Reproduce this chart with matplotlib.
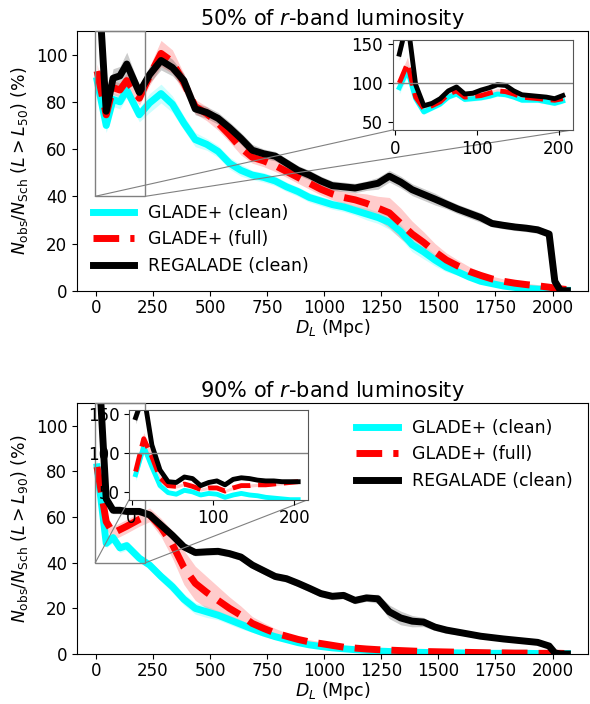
import matplotlib
matplotlib.use("Agg")
from matplotlib import pyplot as plt
import numpy as np

# distance grid (Mpc) of the main panels
dist = [5, 45, 75, 105, 135, 190, 235, 285, 335, 385, 435, 485, 535, 585, 635,
        685, 735, 785, 835, 885, 935, 985, 1035, 1085, 1135, 1185, 1235, 1285,
        1335, 1385, 1435, 1485, 1535, 1585, 1635, 1685, 1735, 1785, 1835, 1885,
        1935, 1985, 2010, 2035, 2065]
# distance grid (Mpc) of the zoomed insets
dist_zoom = [5, 15, 25, 35, 45, 55, 65, 75, 85, 95, 105, 115, 125, 135, 145,
             155, 165, 175, 185, 195, 205]

labels = ["GLADE+ (clean)", "GLADE+ (full)", "REGALADE (clean)"]

# ---- 50% of r-band luminosity ----
l50_glade_clean = [89, 70, 81, 80, 85, 74.5, 79.5, 83.5, 79, 71, 64, 62, 59, 54,
                   51, 49, 48, 46.5, 44, 42, 39.5, 38, 36.5, 35.5, 34, 32.5, 31,
                   29, 25, 19.5, 16.5, 13, 10, 8, 5.8, 4, 3, 2, 1.4, 1, 0.7, 0.5,
                   0.4, 0.3, 0.2]
l50_glade_clean_err = [3, 3, 3, 3, 3, 3, 4, 4, 3.5, 3, 3, 2.5, 2.5, 2.5, 2.5,
                       2, 2, 2, 2, 2, 2, 2, 2, 2, 2, 2.5, 2.5, 3, 3, 3, 3, 2.5,
                       2, 1.5, 1.2, 1, 0.8, 0.6, 0.5, 0.4, 0.3, 0.3, 0.2, 0.2,
                       0.2]
l50_glade_full = [93, 74.5, 86, 85, 89, 81.5, 91, 100.5, 97, 88, 78, 75, 71, 66,
                  60.5, 56.5, 55, 53, 50.5, 48, 45.5, 43, 41, 39.5, 38.5, 37,
                  35, 33, 28.5, 24, 20.5, 16.5, 13, 10.5, 8.2, 6.5, 5, 4, 3.2,
                  2.6, 2.1, 1.5, 1.1, 0.8, 0.5]
l50_glade_full_err = [3, 3, 3, 3, 3, 3, 4, 5.5, 5, 4, 3, 3, 3, 3, 3, 2.5, 2.5,
                      2.5, 2.5, 2.5, 2.5, 2.5, 2.5, 2.5, 3, 4, 5, 6.5, 6.5, 5.5,
                      4.5, 3.5, 3, 2.5, 2, 1.5, 1.2, 1, 0.8, 0.6, 0.5, 0.4, 0.3,
                      0.3, 0.2]
l50_regalade = [140, 76, 90, 91, 96, 84, 91.5, 97.5, 94.5, 89, 77, 75.5, 73, 69,
                64.5, 59.5, 58, 57, 54, 51, 49, 46.5, 44.5, 44, 43.5, 44.5,
                45.5, 48.5, 46, 42.8, 40.8, 38.8, 36.7, 34.6, 32.8, 31, 28.5,
                27.7, 27, 26.5, 25.8, 24, 4, 0, 0]
l50_regalade_err = [6, 4, 4, 4, 5, 3, 3.5, 4, 3.5, 3, 2.5, 2.5, 2.5, 2.5, 2.5,
                    2.5, 2, 2, 2, 2, 2, 2, 2, 2, 2, 2, 2.5, 2.5, 2.5, 2.5, 2.5,
                    2.5, 2, 2, 2, 2, 1.5, 1.5, 1.5, 1.5, 1.5, 1.5, 0.5, 0, 0]

l50_zoom_glade_clean = [94, 116, 80, 63, 68, 73, 82, 86, 79, 80, 81, 83, 86, 85,
                        82, 78, 78, 78, 76, 74, 77]
l50_zoom_glade_full = [100, 125, 82, 67, 71, 76, 86, 90, 82, 83, 84, 87, 90, 89,
                       86, 82, 81, 80, 79, 78, 80]
l50_zoom_regalade = [137, 180, 98, 71, 74, 80, 90, 95, 86, 87, 91, 94, 98, 97,
                     90, 85, 84, 83, 82, 80, 84]
l50_zoom_err = [8, 8, 5, 3, 3, 3, 3, 3, 3, 3, 3, 3, 3, 3, 3, 3, 3, 3, 3, 3, 3]

# ---- 90% of r-band luminosity ----
l90_glade_clean = [82, 48.5, 51, 46.5, 47.5, 42, 39, 34, 29.5, 24, 20, 18.5, 17,
                   15, 13, 11, 9.2, 7.6, 6.3, 5, 4, 3.3, 2.7, 2.3, 1.9, 1.6,
                   1.3, 1.1, 0.9, 0.8, 0.7, 0.6, 0.5, 0.5, 0.4, 0.4, 0.3, 0.3,
                   0.3, 0.3, 0.2, 0.2, 0.2, 0.2, 0.2]
l90_glade_clean_err = [3, 2, 2, 2, 2, 1.5, 1.5, 2, 2.5, 2.5, 2.5, 2.5, 2, 2, 2,
                       1.5, 1.5, 1.2, 1, 0.8, 0.6, 0.5, 0.4, 0.3, 0.3, 0.2,
                       0.2, 0.2, 0.2, 0.1, 0.1, 0.1, 0.1, 0.1, 0.1, 0.1, 0.1,
                       0.1, 0.1, 0.1, 0.1, 0.1, 0.1, 0.1, 0.1]
l90_glade_full = [82, 58, 53, 54.5, 56, 59, 61, 55.5, 48, 38, 31, 27, 23.5, 20,
                  17, 13.4, 11.2, 9.2, 7.8, 6.4, 5.3, 4.6, 3.8, 3, 2.6, 2.2,
                  1.9, 1.7, 1.5, 1.3, 1.1, 1, 0.9, 0.8, 0.7, 0.6, 0.5, 0.5, 0.4,
                  0.4, 0.3, 0.3, 0.3, 0.3, 0.2]
l90_glade_full_err = [3, 3, 3, 3, 3, 3, 3, 4, 6, 7.5, 7.5, 7, 6, 5, 4, 3, 2.5,
                      2, 1.5, 1.2, 1, 0.8, 0.7, 0.6, 0.5, 0.4, 0.3, 0.3, 0.3,
                      0.2, 0.2, 0.2, 0.2, 0.2, 0.1, 0.1, 0.1, 0.1, 0.1, 0.1,
                      0.1, 0.1, 0.1, 0.1, 0.1]
l90_regalade = [140, 68, 63, 63, 62.5, 62.5, 61, 56.5, 52, 47, 44.5, 44.8, 45,
                44, 42.5, 39, 36.5, 34, 33, 31, 28.8, 26.5, 25.3, 25.7, 23.5,
                24.6, 24.2, 18.5, 15.8, 14.4, 14, 11.8, 10.5, 9.6, 8.7, 7.8,
                7.2, 6.6, 6.1, 5.6, 5.1, 3.5, 0.5, 0, 0]
l90_regalade_err = [5, 2, 1.5, 1.5, 1.5, 1.5, 1.5, 1.5, 1.5, 1.5, 1.5, 1.5, 1.5,
                    1.5, 1.5, 1.5, 1.5, 1.5, 1.5, 1.5, 1.5, 1.5, 1.5, 1.5, 1.5,
                    1.5, 2, 3, 3, 2.5, 2, 1.5, 1.5, 1.2, 1, 1, 1, 1, 1, 1, 1,
                    1, 0.3, 0, 0]

l90_zoom_glade_clean = [72, 108, 82, 58, 49, 47, 52, 50, 46, 48, 47, 43, 46, 48,
                        46, 45, 43, 42, 41, 40, 40]
l90_zoom_glade_full = [76, 118, 95, 68, 58, 57, 60, 57, 53, 55, 55, 51, 55, 58,
                       58, 59, 59, 60, 61, 62, 63]
l90_zoom_regalade = [145, 175, 110, 78, 63, 62, 69, 67, 58, 62, 64, 59, 66, 68,
                     67, 65, 64, 64, 63, 63, 63]
l90_zoom_err = [8, 8, 5, 3, 2, 2, 2, 2, 2, 2, 2, 2, 2, 2, 2, 2, 2, 2, 2, 2, 2]

colors = ["cyan", "red", "black"]
styles = ["-", "--", "-"]


def draw_panel(ax, curves, errs, zoom_curves, zoom_err, title, ylab, legend_loc, ins_pos):
    x = np.array(dist)
    for y, e, c, ls, lab in zip(curves, errs, colors, styles, labels):
        y = np.array(y)
        e = np.array(e)
        ax.fill_between(x, y - e, y + e, color=c, alpha=0.2, lw=0)
        ax.plot(x, y, color=c, ls=ls, lw=5, label=lab)
    ax.set_xlim(-83, 2155)
    ax.set_ylim(0, 110)
    ax.set_title(title, fontsize=15, pad=4)
    ax.set_xlabel("$D_L$ (Mpc)", labelpad=0)
    ax.set_ylabel(ylab)
    ax.set_xticks([0, 250, 500, 750, 1000, 1250, 1500, 1750, 2000])
    ax.tick_params(axis="x", pad=2.5)
    ax.legend(loc=legend_loc, frameon=False, handlelength=2.4, fontsize=12.5,
              borderaxespad=0.5, labelspacing=0.5)

    # zoomed inset of the first 200 Mpc
    axins = ax.inset_axes(ins_pos)
    xz = np.array(dist_zoom)
    ez = np.array(zoom_err)
    for y, c, ls in zip(zoom_curves, colors, styles):
        y = np.array(y)
        axins.fill_between(xz, y - ez, y + ez, color=c, alpha=0.2, lw=0)
        axins.plot(xz, y, color=c, ls=ls, lw=3.5)
    axins.axhline(100, color="gray", lw=1)
    axins.set_xlim(-3, 217)
    axins.set_ylim(40, 155)
    axins.set_xticks([0, 100, 200])
    axins.set_yticks([50, 100, 150])
    for sp in axins.spines.values():
        sp.set_color("#555555")
    # box in the main axes, kept inside the panel
    ind = ax.indicate_inset([-3, 40, 220, 70], inset_ax=axins, edgecolor="gray",
                            alpha=1, lw=1)
    for conn, vis in zip(ind.connectors, [True, False, True, False]):
        conn.set_visible(vis)
        conn.set_color("gray")
        conn.set_linewidth(0.8)


plt.rcParams["font.size"] = 12.5
plt.rcParams["xtick.labelsize"] = 12
plt.rcParams["ytick.labelsize"] = 12

fig = plt.figure(figsize=(5.9, 7.04), dpi=100)
ax1 = fig.add_axes([0.1305, 0.587, 0.866, 0.369])
ax2 = fig.add_axes([0.1305, 0.071, 0.866, 0.3565])

draw_panel(ax1, [l50_glade_clean, l50_glade_full, l50_regalade],
           [l50_glade_clean_err, l50_glade_full_err, l50_regalade_err],
           [l50_zoom_glade_clean, l50_zoom_glade_full, l50_zoom_regalade], l50_zoom_err,
           "50% of $r$-band luminosity",
           "$N_{\\rm obs}/N_{\\rm Sch}$ ($L > L_{50}$) (%)",
           "lower left", [0.618, 0.619, 0.352, 0.346])
draw_panel(ax2, [l90_glade_clean, l90_glade_full, l90_regalade],
           [l90_glade_clean_err, l90_glade_full_err, l90_regalade_err],
           [l90_zoom_glade_clean, l90_zoom_glade_full, l90_zoom_regalade], l90_zoom_err,
           "90% of $r$-band luminosity",
           "$N_{\\rm obs}/N_{\\rm Sch}$ ($L > L_{90}$) (%)",
           "upper right", [0.102, 0.615, 0.350, 0.358])

fig.savefig("out.png", dpi=100)
